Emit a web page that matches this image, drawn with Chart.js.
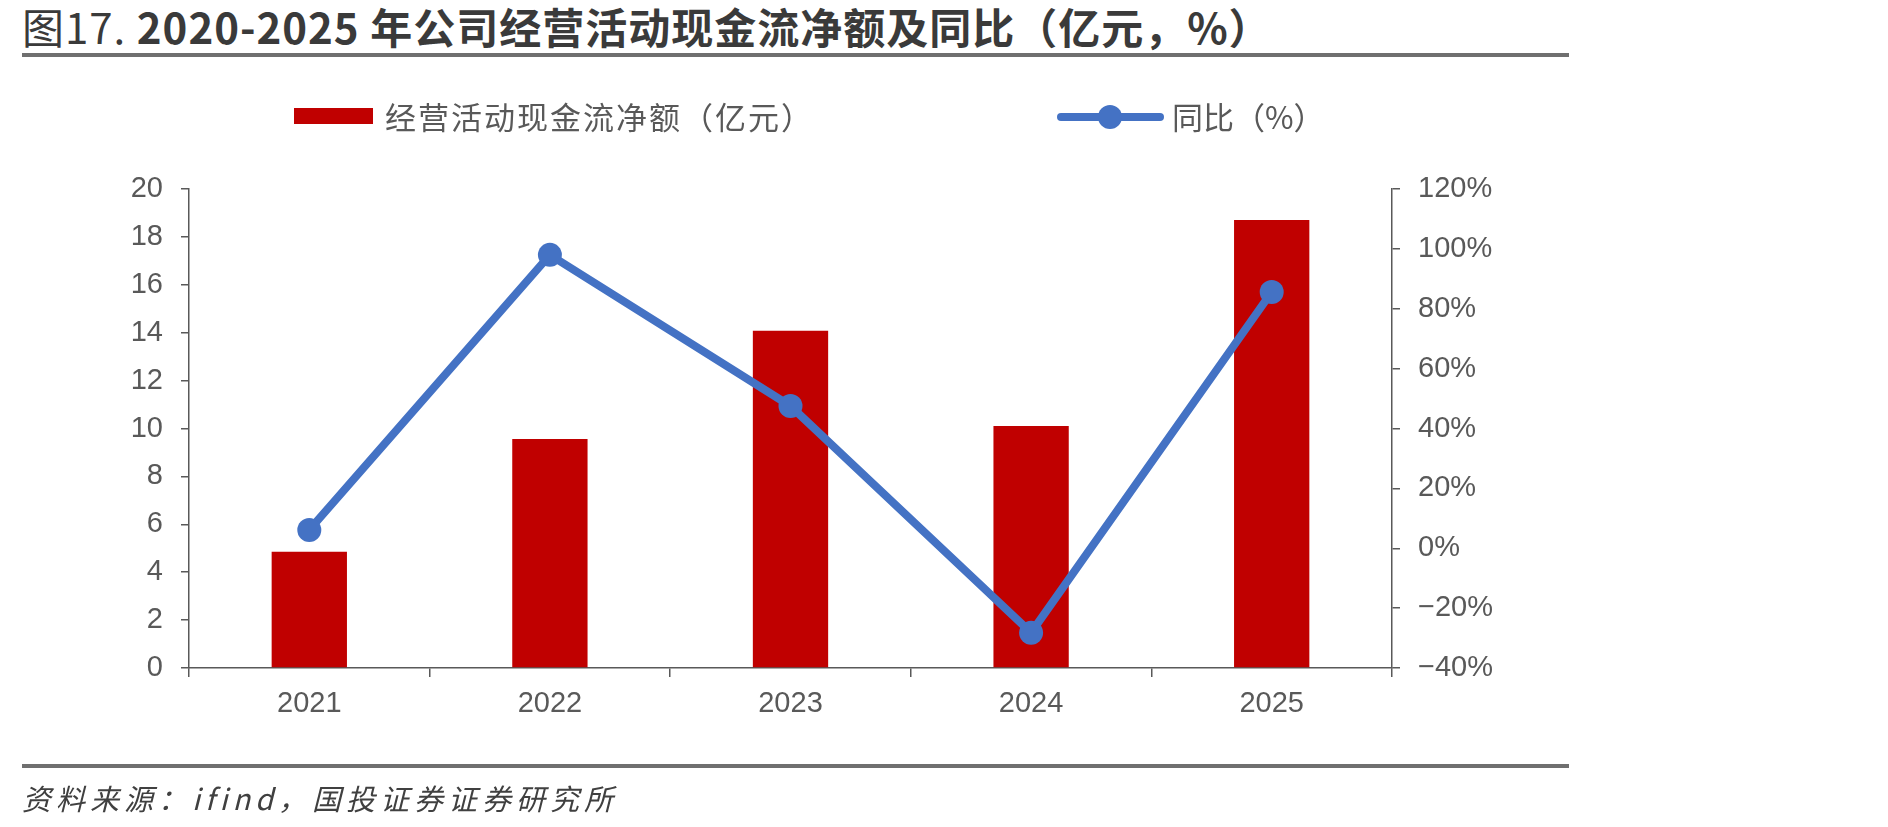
<!DOCTYPE html>
<html lang="zh-CN">
<head>
    <meta charset="UTF-8">
    <title>经营活动现金流净额及同比</title>
    <script src="https://cdn.jsdelivr.net/npm/chart.js"></script>
    <style>
        html, body { margin: 0; padding: 0; background: #fff; }
        body { width: 1888px; height: 827px; position: relative; overflow: hidden; font-family: "Noto Sans CJK SC", sans-serif; }
        #chart { position: absolute; left: 0; top: 0; }
        .title { position: absolute; left: 22px; top: 3px; font-size: 42px; line-height: 46px; color: #3a3a3a; font-weight: bold; letter-spacing: 1px; white-space: nowrap; }
        .title .num { font-weight: normal; }
        .rule { position: absolute; left: 22px; width: 1547px; height: 4px; background: #6f6f6f; }
        .source { position: absolute; left: 22px; top: 779px; font-size: 29px; line-height: 36px; color: #404040; font-style: italic; letter-spacing: 5px; white-space: nowrap; }
        .legend { position: absolute; font-size: 31px; line-height: 36px; color: #595959; white-space: nowrap; }
        .swatch { position: absolute; }
    </style>
</head>
<body>
    <div class="title"><span class="num">图17.</span> 2020-2025 年公司经营活动现金流净额及同比（亿元，%）</div>
    <div class="rule" style="top: 53px;"></div>

    <canvas id="chart" width="1888" height="827"></canvas>

    <div class="swatch" id="bar-swatch" style="left: 294px; top: 108px; width: 79px; height: 16px;"></div>
    <div class="legend" id="bar-label" style="left: 385px; top: 98px; letter-spacing: 2px;"></div>
    <div class="swatch" id="line-swatch" style="left: 1057px; top: 113px; width: 107px; height: 8px; border-radius: 4px;"></div>
    <div class="swatch" id="line-dot" style="left: 1098px; top: 105px; width: 24px; height: 24px; border-radius: 50%;"></div>
    <div class="legend" id="line-label" style="left: 1172px; top: 98px;"></div>

    <div class="rule" style="top: 764px;"></div>
    <div class="source">资料来源：ifind，国投证券证券研究所</div>

    <script>
        // data
        const years = ['2021', '2022', '2023', '2024', '2025'];
        const cashFlow = [4.85, 9.56, 14.08, 10.10, 18.71];      // 亿元
        const yoyPct = [6.1, 98.0, 47.5, -28.2, 85.6];           // %
        const leftTicks = [0, 20, 2];        // min, max, step
        const rightTicks = [-40, 120, 20];   // min, max, step

        const barLabel = '经营活动现金流净额（亿元）';
        const lineLabel = '同比（%）';
        const barColor = '#C00000';
        const lineColor = '#4472C4';
        const axisColor = '#595959';

        // html legend
        document.getElementById('bar-swatch').style.background = barColor;
        document.getElementById('bar-label').textContent = barLabel;
        document.getElementById('line-swatch').style.background = lineColor;
        document.getElementById('line-dot').style.background = lineColor;
        document.getElementById('line-label').textContent = lineLabel;

        const tickFont = { family: '"Liberation Sans", Arial, sans-serif', size: 29 };

        new Chart(document.getElementById('chart'), {
            data: {
                labels: years,
                datasets: [
                    {
                        type: 'line',
                        label: lineLabel,
                        data: yoyPct,
                        yAxisID: 'y1',
                        borderColor: lineColor,
                        backgroundColor: lineColor,
                        borderWidth: 8,
                        pointRadius: 12,
                        pointBorderWidth: 0,
                        pointBackgroundColor: lineColor,
                        tension: 0,
                        order: 0
                    },
                    {
                        type: 'bar',
                        label: barLabel,
                        data: cashFlow,
                        yAxisID: 'y',
                        backgroundColor: barColor,
                        barPercentage: 0.313,
                        categoryPercentage: 1.0,
                        order: 1
                    }
                ]
            },
            options: {
                responsive: false,
                animation: false,
                devicePixelRatio: 1,
                layout: { padding: { left: 0, right: 296, top: 189, bottom: 0 } },
                plugins: {
                    legend: { display: false },
                    tooltip: { enabled: false }
                },
                scales: {
                    x: {
                        offset: true,
                        afterFit: (scale) => { scale.height = 159; },
                        grid: { offset: true, drawOnChartArea: false, drawTicks: true, tickLength: 9, color: axisColor, lineWidth: 1.5 },
                        border: { display: true, color: axisColor, width: 1.5 },
                        ticks: { color: axisColor, font: tickFont, padding: 10, maxRotation: 0 }
                    },
                    y: {
                        position: 'left',
                        min: leftTicks[0],
                        max: leftTicks[1],
                        afterFit: (scale) => { scale.width = 189; },
                        grid: { drawOnChartArea: false, drawTicks: true, tickLength: 8, color: axisColor, lineWidth: 1.5 },
                        border: { display: true, color: axisColor, width: 1.5 },
                        ticks: { stepSize: leftTicks[2], color: axisColor, font: tickFont, padding: 18 }
                    },
                    y1: {
                        position: 'right',
                        min: rightTicks[0],
                        max: rightTicks[1],
                        afterFit: (scale) => { scale.width = 200; },
                        grid: { drawOnChartArea: false, drawTicks: true, tickLength: 8, color: axisColor, lineWidth: 1.5 },
                        border: { display: true, color: axisColor, width: 1.5 },
                        ticks: {
                            stepSize: rightTicks[2],
                            color: axisColor,
                            font: tickFont,
                            padding: 18,
                            callback: (v) => (v < 0 ? '\u2212' + Math.abs(v) : v) + '%'
                        }
                    }
                }
            }
        });
    </script>
</body>
</html>
